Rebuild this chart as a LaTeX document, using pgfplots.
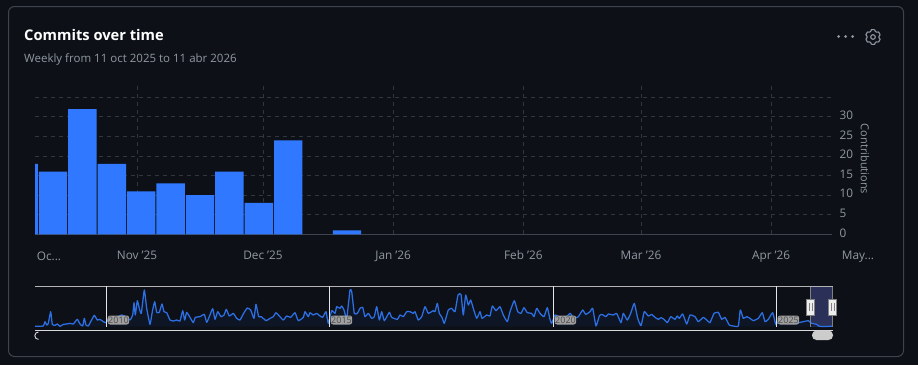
\documentclass[border=0pt]{standalone}
\usepackage{fontspec}
\setmainfont{Open Sans}
\usepackage{pgfplots}
\usepackage{pgfplotstable}
\pgfplotsset{compat=1.18}
\definecolor{bgc}{HTML}{0D1117}
\definecolor{cardb}{HTML}{3D444D}
\definecolor{gridc}{HTML}{30363D}
\definecolor{muted}{HTML}{9198A1}
\definecolor{barc}{HTML}{2F78FF}
\definecolor{linec}{HTML}{2D70E6}
\definecolor{areac}{HTML}{0F1829}
\definecolor{framec}{HTML}{B4B4B4}
\definecolor{winc}{HTML}{2A3058}
\definecolor{lab}{HTML}{A0A0A0}
\pgfplotstableread{
d v
4 18
11 16
18 32
25 18
32 11
39 13
46 10
53 16
60 8
67 24
81 1
}\weekly
\pgfplotstableread{
x y
35 0
43.3 1
45 14
46.7 4
48.3 9
50.7 44
52.3 6
55 3
57.3 7
60 0
63.3 6
66.7 7
70 9
73.3 7
77.3 21
80 7
82.7 1
84.3 24
86 4
88.3 1
90.7 14
94.3 33
97.3 19
100 21
103.3 14
106 11
108.3 21
111.7 17
115 19
118.3 29
121.7 34
126 29
130 19
132.7 34
134 71
135.3 34
137.3 77
139.3 54
141.3 39
144.3 109
146.7 54
150 6
152.3 44
154.7 74
156.7 42
159.3 42
162 67
164 44
166.7 41
170 19
173.3 16
176.7 19
180 16
182.7 47
184.7 19
186.7 42
190 27
193.3 11
195.3 27
200 29
204.3 36
206.7 12
209.3 29
212.7 53
215 21
217.7 44
221 29
224 34
226.3 51
229.3 31
233.3 39
236.7 24
240 19
244 41
247.3 55
250.7 49
254 24
256 66
258.7 29
261.3 29
266 17
270 24
273.3 29
276 41
279.3 31
283.3 19
286.7 31
290.7 27
295 41
298.3 17
303.3 27
305 44
308.3 29
310 41
313.3 34
316.7 39
320 31
322.7 27
326 44
328.3 9
331.7 47
335 39
336.7 59
340 54
341.7 61
344 49
346.7 24
350 109
351.7 104
354.3 39
357.3 39
360 54
362.7 57
365 29
368.3 39
371.7 24
374.3 29
376.7 59
379.3 19
381.7 44
384.3 17
389.3 42
391.7 27
397.3 21
400 34
403.3 29
406.7 44
410 44
413.3 39
415 44
418.3 19
421.7 29
425 59
428.3 39
433.3 47
435 44
437.3 69
439.3 39
442 27
444.3 9
448.3 49
451.7 54
455 44
458 94
461 96
463.3 34
465.7 94
468.3 64
470.7 79
473.3 54
476.7 24
480 44
482 24
486.7 34
490 31
492.3 61
496 47
500 59
503.3 34
507.3 14
510 44
514.3 77
517.7 44
521 39
524 56
527.3 41
531.7 39
534 29
536.7 54
540 39
544 29
547.3 56
550 21
551.7 9
555 34
560 27
565 24
570 39
574 24
578.3 29
582.7 49
585.7 36
590 44
592.7 54
596 1
599.3 31
601.7 36
606 29
608.3 37
613.3 34
616.7 39
621 11
623.3 39
627.3 19
630.7 39
634.3 69
637.7 24
641 2
644.3 44
648.3 31
651.7 36
655 27
658.3 21
661 26
664 21
667.3 11
670.7 29
675 21
677.3 31
679.3 24
682.7 37
686.7 7
690 34
695 29
698.3 14
703.3 27
706.7 19
710 11
714 39
718.3 42
721.7 21
725 27
729.3 4
733.3 1
738.3 1
740.3 49
743.3 24
746.7 29
750 24
753.3 17
758.3 24
762.3 41
765 14
768.3 21
772.7 41
775.7 6
778.3 14
781.7 24
786.7 21
793.3 14
798.3 11
803.3 14
808.3 17
811.7 9
816.7 6
819.3 0
832 0
}\history
\begin{document}
\begin{tikzpicture}[x=1pt,y=1pt]
\useasboundingbox (0,0) rectangle (918,-365);
\fill[bgc] (0,0) rectangle (918,-365);
\draw[cardb,line width=1pt,rounded corners=6pt] (8.5,-6.5) rectangle (903.5,-356.5);
\node[anchor=base west,inner sep=0,text=white,font=\fontsize{14.7}{18}\selectfont\bfseries] at (24,-40.7) {Commits over time};
\node[anchor=base west,inner sep=0,text=muted,font=\fontsize{11.5}{14}\selectfont] at (24,-62.7) {Weekly from 11 oct 2025 to 11 abr 2026};
% menu dots and gear
\foreach \px in {838.5,845.5,852.5}{\fill[muted] (\px,-36.5) circle (1.5);}
\begin{scope}[shift={(873,-37)},draw=muted,line width=1.1pt,line join=round]
\foreach \a in {30,90,...,330}{\draw (\a-12:7.5pt)--(\a+12:7.5pt)--(\a+24:6pt)--(\a+36:6pt)--(\a+48:7.5pt);}
\draw (0,0) circle (2.3);
\end{scope}
% main chart
\begin{axis}[
  at={(35pt,-234.3pt)},anchor=south west,
  scale only axis,width=797pt,height=150.3pt,
  xmin=6.71,xmax=196.48,ymin=0,ymax=38.4,
  axis x line*=bottom,axis y line*=right,
  x axis line style={draw=cardb,line width=1pt,-},
  y axis line style={draw=none,-},
  major tick length=0pt,
  xtick={31,61,92,123,151,182},
  xticklabels={Nov '25,Dec '25,Jan '26,Feb '26,Mar '26,Apr '26},
  ytick={0,5,...,35},
  yticklabels={0,5,10,15,20,25,30,},
  xmajorgrids,ymajorgrids,
  grid style={gridc,line width=0.8pt,dash pattern=on 4pt off 4pt},
  tick label style={text=muted,font=\fontsize{11.8}{14}\selectfont},
  x tick label style={yshift=-13pt},
  y tick label style={xshift=4pt,yshift=1.5pt},
  /pgf/number format/assume math mode=true,
  clip=true,
]
\addplot[ybar,bar width=28.4pt,bar shift=0pt,fill=barc,draw=none] table[x=d,y=v] {\weekly};
\end{axis}
\node[text=muted,font=\fontsize{11.8}{14}\selectfont] at (49,-256.5) {Oc...};
\node[text=muted,font=\fontsize{11.8}{14}\selectfont] at (858,-256.5) {May...};
\node[text=muted,rotate=-90,font=\fontsize{11}{14}\selectfont] at (865,-159) {Contributions};
% navigator
\fill[winc] (810.7,-286) rectangle (832.7,-326.7);
\begin{axis}[
  at={(35pt,-330pt)},anchor=south west,
  scale only axis,width=797pt,height=44pt,
  xmin=35,xmax=832,ymin=-11,ymax=121,
  hide axis,clip=false,
]
\addplot[fill=areac,draw=none,fill opacity=0.85,smooth,tension=0.25] table[x=x,y=y] {\history} \closedcycle;
\addplot[linec,line width=1.25pt,line join=round,smooth,tension=0.25] table[x=x,y=y] {\history};
\end{axis}
\draw[framec,line width=1pt] (35,-286.5)--(832.7,-286.5);
\draw[white!85!black,line width=1pt] (35,-330)--(832.7,-330);
\draw[gray,line width=1pt] (810.7,-286.5)--(810.7,-326.7) (832.7,-286.5)--(832.7,-326.7);
\foreach \px/\yr in {106.5/2010,329.5/2015,553.5/2020,776.5/2025}{
  \draw[white!90!black,line width=1pt] (\px,-286)--(\px,-326.5);
  \fill[lab,rounded corners=2.5pt] (\px+1.2,-315.5) rectangle (\px+22.7,-324.5);
  \node[text=black!70,inner sep=0,font=\fontsize{9}{9}\selectfont] at (\px+12,-320) {\yr};
}
\foreach \px in {810.7,832.7}{
  \fill[white!93!black,draw=gray,line width=1pt] (\px-3.9,-299) rectangle (\px+3.9,-315);
  \draw[gray,line width=0.8pt] (\px-1.3,-303)--(\px-1.3,-311) (\px+1.3,-303)--(\px+1.3,-311);
}
\fill[white!80!black,rounded corners=4.5pt] (812,-330.5) rectangle (833,-340);
\draw[white!85!black,line width=0.9pt] (38.5,-332) arc[start angle=90,end angle=270,radius=3.7];
\end{tikzpicture}
\end{document}
